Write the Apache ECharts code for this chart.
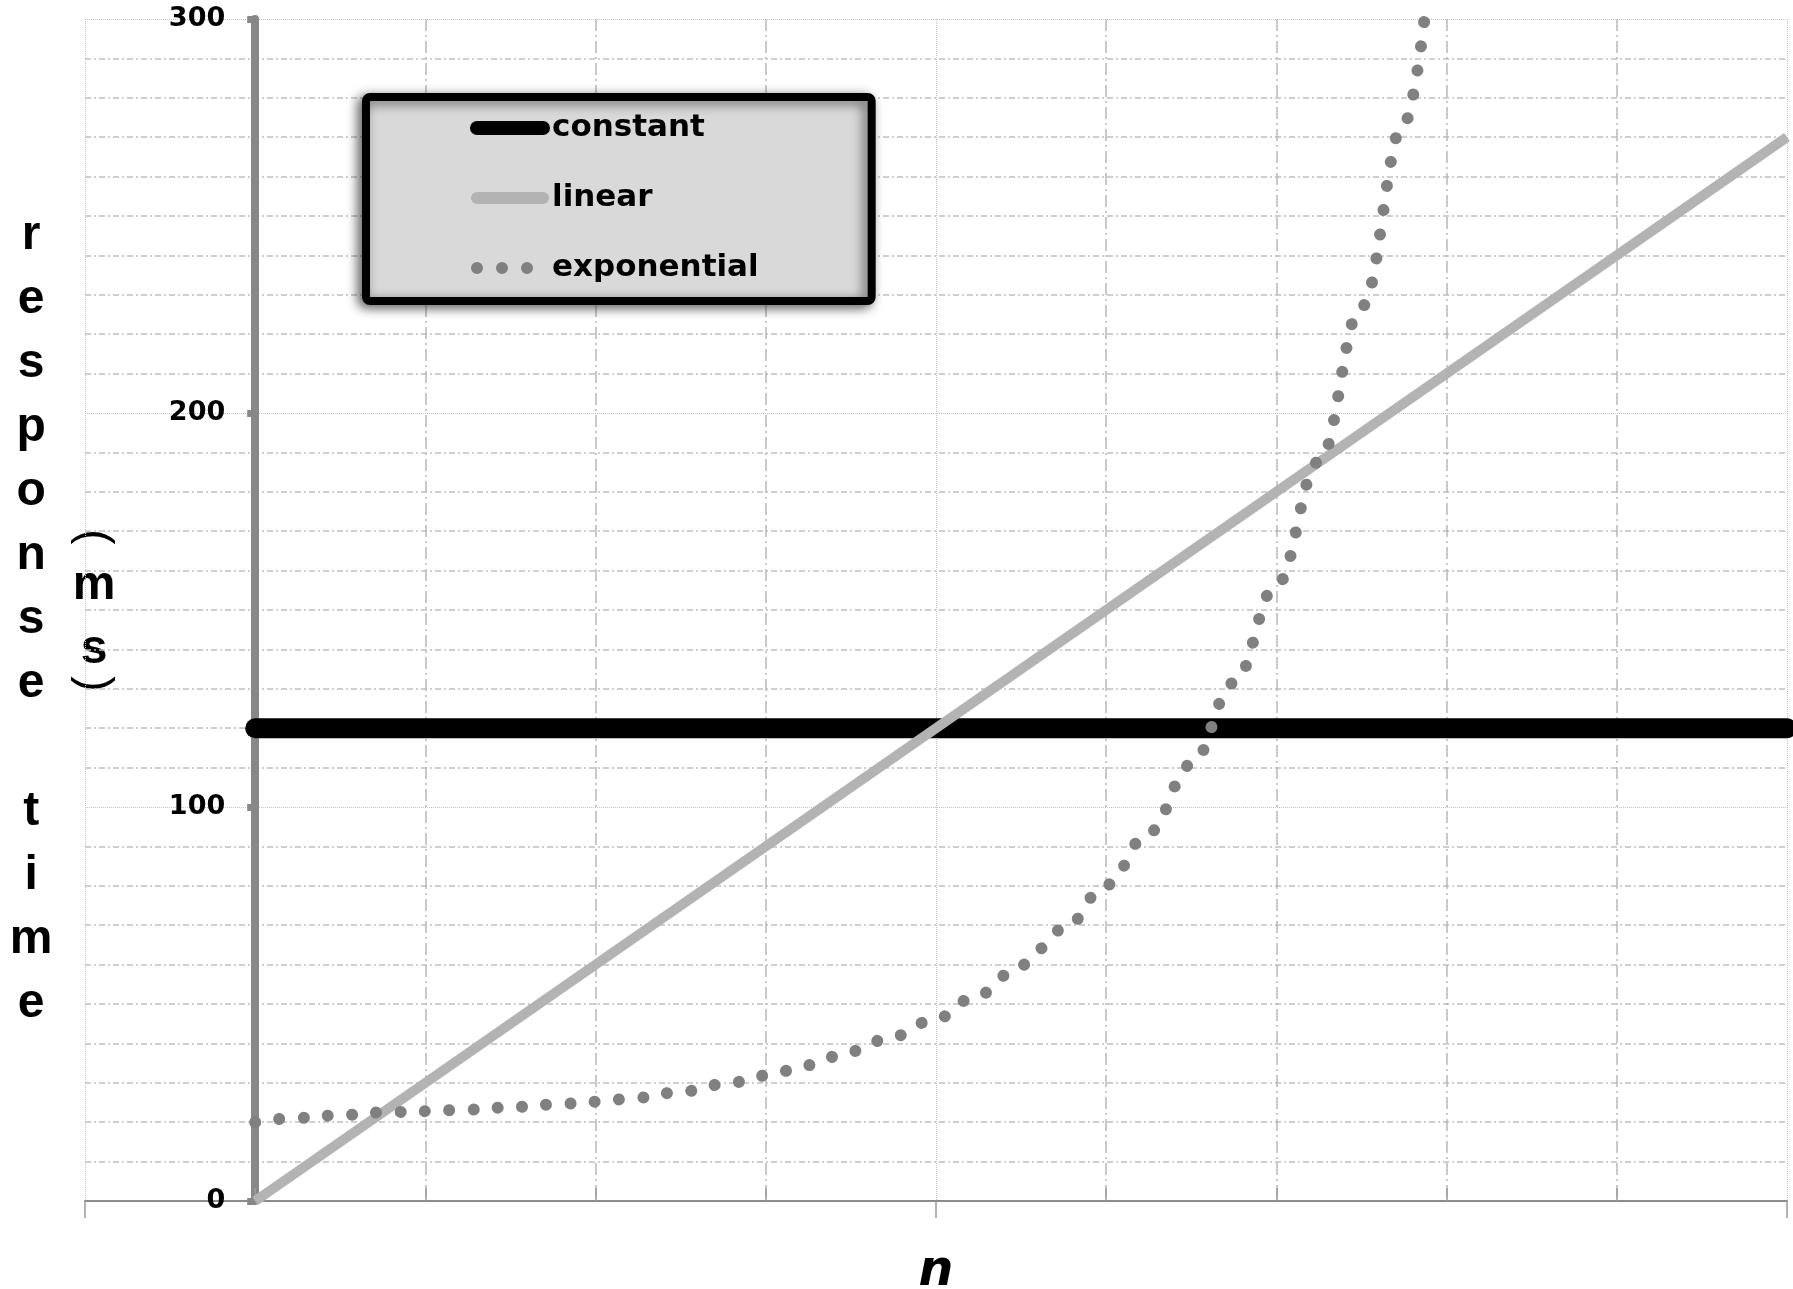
<!DOCTYPE html>
<html>
<head>
<meta charset="utf-8">
<script src="https://cdn.jsdelivr.net/npm/echarts@6/dist/echarts.min.js"></script>
<style>
  html, body { margin: 0; padding: 0; background: #ffffff; }
  #chart { width: 1793px; height: 1289px; }
</style>
</head>
<body>
<div id="chart"></div>
<script>
// ---- data ----
const seriesNames = ['constant', 'linear', 'exponential'];

const constantX = [0, 9];
const constantY = [120, 120];

const linearX = [0, 9];
const linearY = [0, 270];

const exponentialX = [0, 0.25, 0.5, 0.75, 1, 1.25, 1.5, 1.75, 2, 2.25, 2.5, 2.75, 3, 3.25, 3.5, 3.75,
  4, 4.25, 4.5, 4.75, 5, 5.25, 5.5, 5.75, 6, 6.25, 6.5, 6.75, 6.87];
const exponentialY = [20, 21.1, 21.8, 22.5, 22.8, 23.2, 23.8, 24.5, 25.2, 26.2, 27.7, 29.6, 31.8, 34.5, 38.0, 41.8,
  46.3, 52.4, 59.9, 69.0, 80.2, 93.5, 110.8, 131.5, 156.3, 187.7, 227, 273.5, 300];

const yAxisName = 'response time';
const yAxisUnit = 'ms';
const xAxisName = 'n';

// ---- chart ----
function zip(xs, ys) { return xs.map((x, i) => [x, ys[i]]); }

const chart = echarts.init(document.getElementById('chart'), null, { renderer: 'canvas' });

const nameFont = "'Liberation Sans Narrow', 'Liberation Sans', Arial, sans-serif";
const verticalName = '{pad| }\n' + yAxisName.split('').join('\n');

const dotDash = [0.01, 24.3];
const hiddenSymbol = { color: 'rgba(0,0,0,0)', borderWidth: 0, opacity: 0 };

const option = {
  backgroundColor: '#ffffff',
  animation: false,
  grid: { left: 85, right: 6, top: 19, bottom: 88, containLabel: false, outerBoundsMode: 'none' },
  xAxis: {
    type: 'value',
    min: -1, max: 9, interval: 5,
    name: xAxisName,
    nameLocation: 'middle',
    nameGap: 47,
    nameTextStyle: {
      fontFamily: "'DejaVu Sans', sans-serif", fontWeight: 'bold', fontStyle: 'italic',
      fontSize: 49, color: '#000'
    },
    axisLine: { show: true, onZero: true, lineStyle: { color: '#8c8c8c', width: 2 } },
    axisTick: { show: true, length: 17, lineStyle: { color: '#9a9a9a', width: 1.5 } },
    minorTick: { show: true, splitNumber: 5, length: -13, lineStyle: { color: '#9a9a9a', width: 1.5 } },
    axisLabel: { show: false },
    splitLine: { show: true, lineStyle: { color: '#c4c4c4', width: 1, type: [1, 1] } },
    minorSplitLine: { show: true, lineStyle: { color: '#b8b8b8', width: 1.5, type: [12, 4, 2, 4] } }
  },
  yAxis: {
    type: 'value',
    min: 0, max: 300, interval: 100,
    offset: -170.2,
    name: verticalName,
    nameLocation: 'middle',
    nameRotate: 0,
    nameGap: 224,
    nameTextStyle: {
      fontFamily: nameFont, fontWeight: 'bold', fontSize: 48, color: '#000',
      lineHeight: 64, align: 'center', verticalAlign: 'middle',
      rich: { pad: { lineHeight: 20, fontSize: 10 } }
    },
    axisLine: { show: true, onZero: false, lineStyle: { color: '#888888', width: 8 } },
    axisTick: { show: true, length: 8, lineStyle: { color: '#888888', width: 7 } },
    minorTick: { show: false, splitNumber: 10 },
    axisLabel: {
      show: true, margin: 30, color: '#000',
      fontFamily: "'DejaVu Sans', sans-serif", fontWeight: 'bold', fontSize: 27
    },
    splitLine: { show: true, lineStyle: { color: '#c4c4c4', width: 1, type: [1, 1] } },
    minorSplitLine: { show: true, lineStyle: { color: '#c0c0c0', width: 1.5, type: [6, 3, 2, 3] } }
  },
  legend: {
    show: true,
    orient: 'vertical',
    left: 366, top: 97,
    padding: [15, 113, 17, 104],
    backgroundColor: '#d9d9d9',
    borderColor: '#000000',
    borderWidth: 8,
    borderRadius: 4,
    shadowBlur: 12,
    shadowColor: 'rgba(0,0,0,0.55)',
    shadowOffsetX: -4,
    shadowOffsetY: 3,
    itemWidth: 66,
    itemHeight: 14,
    itemGap: 38,
    selectedMode: false,
    itemStyle: hiddenSymbol,
    textStyle: {
      fontFamily: "'DejaVu Sans', sans-serif", fontWeight: 'bold', fontSize: 31,
      color: '#000', lineHeight: 32, padding: [0, 0, 0, 4]
    },
    data: [
      { name: seriesNames[0], itemStyle: hiddenSymbol,
        lineStyle: { color: '#000000', width: 14, cap: 'round', type: 'solid' } },
      { name: seriesNames[1], itemStyle: hiddenSymbol,
        lineStyle: { color: '#b3b3b3', width: 12, cap: 'round', type: 'solid' } },
      { name: seriesNames[2], itemStyle: hiddenSymbol,
        lineStyle: { color: '#808080', width: 12, cap: 'round', type: [0.01, 25] } }
    ]
  },
  graphic: [
    {
      type: 'text', x: 94, y: 617.5, silent: true,
      style: {
        text: yAxisUnit.split('').join('\n'), fill: '#000',
        fontFamily: nameFont, fontWeight: 'bold', fontSize: 48, lineHeight: 64,
        align: 'center', verticalAlign: 'middle'
      }
    },
    {
      type: 'text', x: 94, y: 537, rotation: -Math.PI / 2, silent: true,
      style: {
        text: '(', fill: '#000', fontFamily: "'Liberation Sans', sans-serif", fontSize: 46,
        align: 'center', verticalAlign: 'middle'
      }
    },
    {
      type: 'text', x: 94, y: 684, rotation: -Math.PI / 2, silent: true,
      style: {
        text: ')', fill: '#000', fontFamily: "'Liberation Sans', sans-serif", fontSize: 46,
        align: 'center', verticalAlign: 'middle'
      }
    }
  ],
  series: [
    {
      name: seriesNames[0], type: 'line', data: zip(constantX, constantY),
      symbol: 'none', clip: true,
      lineStyle: { color: '#000000', width: 20, cap: 'round' },
      itemStyle: { color: '#000000' }
    },
    {
      name: seriesNames[1], type: 'line', data: zip(linearX, linearY),
      symbol: 'none', clip: true,
      lineStyle: { color: '#b3b3b3', width: 10, cap: 'butt' },
      itemStyle: { color: '#b3b3b3' }
    },
    {
      name: seriesNames[2], type: 'line', data: zip(exponentialX, exponentialY),
      symbol: 'none', clip: false, smooth: 0.4, smoothMonotone: 'x',
      lineStyle: { color: '#808080', width: 12, cap: 'round', type: dotDash },
      itemStyle: { color: '#808080' }
    }
  ]
};

chart.setOption(option);
</script>
</body>
</html>
